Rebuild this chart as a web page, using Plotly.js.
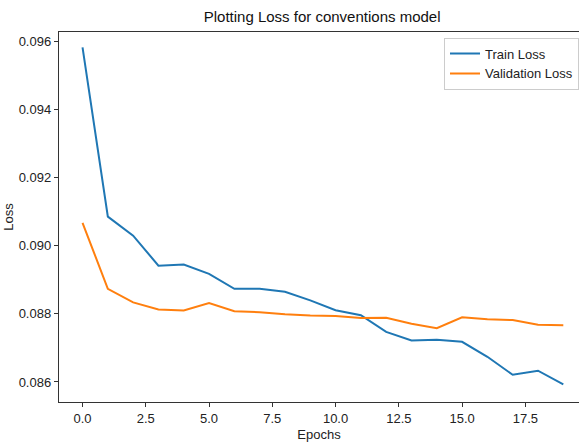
<!DOCTYPE html>
<html><head><meta charset="utf-8">
<script src="https://cdn.plot.ly/plotly-3.0.1.min.js"></script>
<style>html,body{margin:0;padding:0;background:#fff}#chart{width:579px;height:442px}</style>
</head><body><div id="chart"></div>
<script>
const epochs = [0,1,2,3,4,5,6,7,8,9,10,11,12,13,14,15,16,17,18,19];
const trainLoss = [0.09584,0.09086,0.09030,0.08942,0.08945,0.08918,0.08874,0.08874,0.08865,0.08840,0.08811,0.08796,0.08747,0.08722,0.08724,0.08718,0.08674,0.08621,0.08633,0.08593];
const valLoss = [0.09068,0.08874,0.08834,0.08813,0.08810,0.08832,0.08808,0.08805,0.08799,0.08795,0.08794,0.08788,0.08789,0.08771,0.08758,0.08790,0.08784,0.08782,0.08768,0.08767];
const xTicks = [0,2.5,5,7.5,10,12.5,15,17.5];
const xTickText = ['0.0','2.5','5.0','7.5','10.0','12.5','15.0','17.5'];
const yTicks = [0.086,0.088,0.090,0.092,0.094,0.096];
const yTickText = ['0.086','0.088','0.090','0.092','0.094','0.096'];

const FONT = '"Liberation Sans", Arial, sans-serif';
const data = [
  {x: epochs, y: trainLoss, type:'scatter', mode:'lines', name:'Train Loss', line:{color:'#1f77b4', width:2}},
  {x: epochs, y: valLoss, type:'scatter', mode:'lines', name:'Validation Loss', line:{color:'#ff7f0e', width:2}}
];
const layout = {
  width:579, height:442,
  margin:{l:59, r:0, t:32, b:40},
  paper_bgcolor:'#fff', plot_bgcolor:'#fff',
  font:{family:FONT, size:13, color:'#222'},
  title:{text:'Plotting Loss for conventions model', font:{family:FONT, size:15, color:'#111'}, xref:'paper', x:0.506, xanchor:'center', yref:'container', y:0.962, yanchor:'middle'},
  showlegend:true,
  legend:{x:1, xanchor:'right', y:0.985, yanchor:'top', bgcolor:'rgba(255,255,255,0.9)', bordercolor:'#ccc', borderwidth:1, font:{family:FONT, size:13, color:'#222'}, tracegroupgap:0, itemwidth:30},
  xaxis:{range:[-0.93,19.62], tickvals:xTicks, ticktext:xTickText, showgrid:false, zeroline:false, showline:true, linecolor:'#333', linewidth:1.2, mirror:true, ticks:'outside', ticklen:4, tickcolor:'#333', tickfont:{size:13},
    title:{text:'Epochs', standoff:5, font:{family:FONT, size:13, color:'#222'}}},
  yaxis:{range:[0.08541,0.09629], tickvals:yTicks, ticktext:yTickText, showgrid:false, zeroline:false, showline:true, linecolor:'#333', linewidth:1.2, ticks:'outside', ticklen:4, tickcolor:'#333', tickfont:{size:13}, automargin:true,
    title:{text:'Loss', standoff:2, font:{family:FONT, size:13, color:'#222'}}}
};
Plotly.newPlot('chart', data, layout, {displayModeBar:false, staticPlot:true});
</script></body></html>
